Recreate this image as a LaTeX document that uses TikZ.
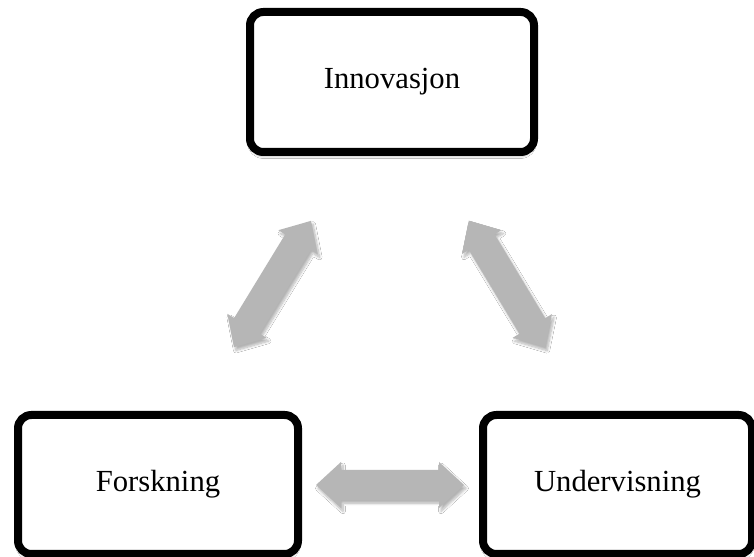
\documentclass[tikz,border=0pt]{standalone}
\usepackage{fontspec}
\setmainfont{Liberation Serif}
\usetikzlibrary{shadows.blur}
\def\px{0.75pt}
\tikzset{
  box/.style={draw=black, line width=6pt, rounded corners=10pt, fill=white,
    font=\fontsize{23}{27}\selectfont, inner sep=0pt,
    blur shadow={shadow xshift=0pt, shadow yshift=-3pt, shadow blur steps=8, shadow opacity=35}},
  blockarrow/.style={fill=arrowgray, draw=none,
    blur shadow={shadow xshift=1.5pt, shadow yshift=-2.5pt, shadow blur steps=8, shadow opacity=30}}
}
\definecolor{arrowgray}{RGB}{182,182,182}
\begin{document}
\begin{tikzpicture}[x=\px, y=\px]
\useasboundingbox (0,0) rectangle (754,557);
\fill[white] (0,0) rectangle (754,557);
% boxes
\node[box, minimum width=284*\px, minimum height=140*\px] (inn) at (392,475) {Innovasjon};
\node[box, minimum width=280*\px, minimum height=139*\px] (for) at (158,72.5) {Forskning};
\node[box, minimum width=269*\px, minimum height=139*\px] (und) at (617.5,72.5) {Undervisning};
% double block arrows
\coordinate (aL) at (272.5,273);
\coordinate (aR) at (507,273);
\coordinate (aB) at (390,72);
\foreach \c/\ang in {aL/58.6, aR/-58.9, aB/0}{
  \begin{scope}[shift={(\c)}, rotate=\ang]
    \path[blockarrow] (-74,0) -- (-49,23) -- (-49,15) -- (49,15) -- (49,23) -- (74,0)
      -- (49,-23) -- (49,-15) -- (-49,-15) -- (-49,-23) -- cycle;
  \end{scope}
}
\end{tikzpicture}
\end{document}
